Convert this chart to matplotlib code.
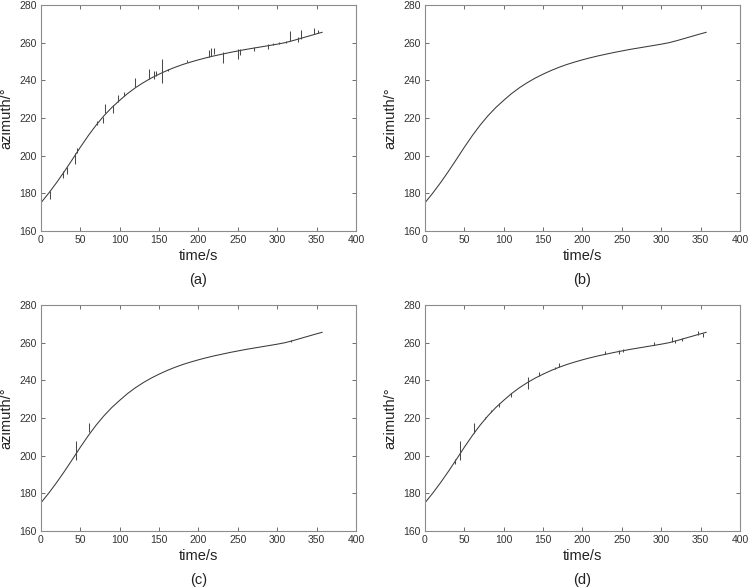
import numpy as np
import matplotlib
matplotlib.use("Agg")
import matplotlib.pyplot as plt

# smooth azimuth track (time in s, azimuth in deg)
time_s = [0, 10, 20, 30, 40, 50, 60, 70, 80, 90, 100, 110, 120, 130, 140,
          150, 160, 170, 180, 190, 200, 210, 220, 230, 240, 250, 260, 270,
          280, 290, 300, 310, 320, 330, 340, 350, 357]
azimuth = [175.0, 180.2, 185.8, 191.8, 198.1, 204.5, 210.6, 216.2, 221.2,
           225.6, 229.4, 233.0, 236.1, 238.8, 241.2, 243.3, 245.2, 246.9,
           248.4, 249.7, 250.9, 252.0, 253.0, 253.9, 254.8, 255.6, 256.4,
           257.1, 257.8, 258.5, 259.2, 260.0, 261.1, 262.3, 263.5, 264.7,
           265.5]

# outlier jumps per panel: time, low, high
spikes_a_t = [11.4, 28, 33, 43, 46, 70.7, 78.7, 81.7, 91, 97.8, 105.8, 119.4,
              137.6, 143.5, 146, 153.7, 161.7, 185.8, 213.3, 215.9, 219.3,
              230.7, 250.6, 252.3, 270, 288.7, 295, 302.6, 310.7, 315.8,
              326.8, 330, 347, 352]
spikes_a_lo = [177.0, 188.0, 190.1, 195.4, 201.2, 216.3, 217.2, 222.5, 222.5,
               228.7, 231.7, 236.3, 240.9, 240.7, 242.3, 238.4, 245.0, 249.6,
               252.6, 252.9, 253.8, 249.4, 251.2, 253.5, 255.8, 256.8, 258.8,
               259.3, 259.6, 260.9, 260.5, 261.8, 264.4, 265.0]
spikes_a_hi = [181.4, 191.9, 194.2, 201.2, 203.9, 218.6, 220.7, 227.4, 226.9,
               232.2, 234.0, 241.2, 245.8, 245.0, 245.0, 251.2, 246.2, 250.8,
               256.1, 257.3, 257.3, 255.2, 256.5, 256.5, 257.5, 259.1, 260.0,
               260.5, 261.1, 266.2, 262.8, 266.7, 267.6, 266.7]

spikes_b_t = []
spikes_b_lo = []
spikes_b_hi = []

spikes_c_t = [44.9, 61.4, 317.5]
spikes_c_lo = [197.7, 212.4, 260.5]
spikes_c_hi = [207.8, 217.3, 261.6]

spikes_d_t = [37.5, 44.5, 62, 76.4, 84, 93.4, 109, 131, 144.4, 165.6, 170.7,
              228.4, 246.2, 251.8, 290.8, 314.2, 317.6, 326, 346.9, 353.3]
spikes_d_lo = [195.4, 197.7, 211.9, 219.3, 223.0, 225.7, 230.9, 235.3, 242.5,
               245.8, 247.2, 254.0, 254.0, 255.2, 258.8, 260.5, 260.0, 260.9,
               264.1, 263.2]
spikes_d_hi = [198.1, 207.8, 217.2, 220.4, 224.2, 227.8, 233.1, 242.0, 244.6,
               247.2, 249.0, 255.6, 256.1, 256.5, 260.5, 262.8, 261.4, 262.3,
               266.4, 265.3]

panels = [
    ("(a)", spikes_a_t, spikes_a_lo, spikes_a_hi),
    ("(b)", spikes_b_t, spikes_b_lo, spikes_b_hi),
    ("(c)", spikes_c_t, spikes_c_lo, spikes_c_hi),
    ("(d)", spikes_d_t, spikes_d_lo, spikes_d_hi),
]

plt.rcParams['font.family'] = ['Liberation Sans', 'DejaVu Sans']

fig = plt.figure(figsize=(7.49, 5.88), dpi=100)

lefts = [0.0547, 0.5674, 0.0547, 0.5674]
bottoms = [0.6071, 0.6071, 0.0969, 0.0969]
w, h = 0.4206, 0.3844

for i, (tag, st, slo, shi) in enumerate(panels):
    ax = fig.add_axes([lefts[i], bottoms[i], w, h])
    ax.plot(time_s, azimuth, "-", color="#3a3a3a", lw=0.75)
    if len(st):
        ax.vlines(st, slo, shi, color="#4a4a4a", lw=0.75)

    ax.set_xlim([0, 400])
    ax.set_ylim([160, 280])
    ax.set_xticks(np.arange(0, 401, 50))
    ax.set_yticks(np.arange(160, 281, 20))
    ax.tick_params(direction="in", top=True, right=True, length=3,
                   width=0.6, labelsize=7.5, colors="#555555",
                   labelcolor="#333333", pad=3)
    for sp in ax.spines.values():
        sp.set_color("#8c8c8c")
        sp.set_linewidth(0.8)

    ax.set_xlabel("time/s", fontsize=10.5, color="#222222", labelpad=3)
    ax.set_ylabel("azimuth/°", fontsize=10.5, color="#222222", labelpad=4)
    ax.text(0.5, -0.217, tag, transform=ax.transAxes, ha="center",
            va="center", fontsize=10.5, color="#222222")

plt.savefig("out.png", dpi=100)
